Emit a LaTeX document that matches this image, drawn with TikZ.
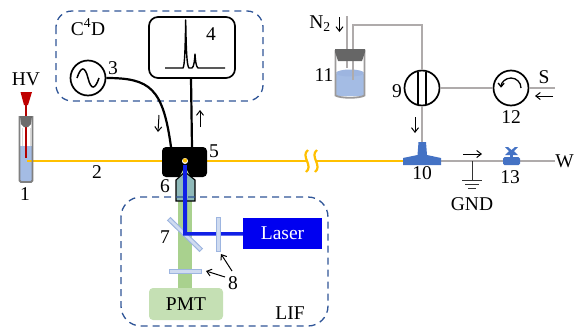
\documentclass[tikz,border=0pt]{standalone}
\usepackage{fontspec}
\setmainfont{Liberation Serif}
\usetikzlibrary{arrows.meta,calc}
\definecolor{dashblue}{HTML}{2F5597}
\definecolor{fiber}{HTML}{FFC000}
\definecolor{tube}{HTML}{AFABAB}
\definecolor{liquid}{HTML}{A4BCE4}
\definecolor{tblue}{HTML}{4472C4}
\definecolor{beam}{HTML}{1020E6}
\definecolor{lgreen}{HTML}{A9D18E}
\definecolor{pmtgreen}{HTML}{C5E0B4}
\definecolor{optic}{HTML}{CFDBF0}
\definecolor{opticb}{HTML}{9DB5E0}
\tikzset{
  lab/.style={font=\fontsize{19.5}{21}\selectfont,inner sep=0pt},
  dashbox/.style={draw=dashblue,line width=1.3pt,dash pattern=on 7pt off 5pt,rounded corners=16pt},
  thin arrow/.style={draw=black,line width=1pt,-{Straight Barb[length=4.5pt,width=7pt]}},
  pipe/.style={draw=tube,line width=1.6pt},
  cable/.style={draw=black,line width=2.2pt},
  round sym/.style={circle,draw=black,line width=1.7pt,minimum size=35pt,inner sep=0pt,fill=white},
  optbar/.style={draw=opticb,fill=optic,line width=0.8pt},
}
\begin{document}
\begin{tikzpicture}[x=1pt,y=-1pt]
\useasboundingbox (0,0) rectangle (574,327);
% dashed groups
\draw[dashbox] (56,11) rectangle (263,101);
% fibre
\draw[fiber,line width=2.2pt] (27,161) -- (403,161);
% squiggles
\fill[white] (306,148) rectangle (315,174);
\draw[fiber,line width=2.2pt] (308,150) .. controls (300,156) and (314,166) .. (306,172);
\draw[fiber,line width=2.2pt] (317,150) .. controls (309,156) and (323,166) .. (315,172);
% vial 1
\fill[liquid] (19.5,146) rectangle (32.5,181);
\draw[fiber,line width=1.2pt] (27,161) -- (33,161);
\draw[draw=gray,line width=1.9pt,rounded corners=1.5pt] (19.5,116) -- (19.5,182) -- (32.5,182) -- (32.5,116);
\draw[draw=white!70!gray,line width=0.8pt] (22,128) -- (22,146);
\draw[draw=white!70!gray,line width=0.8pt] (30,128) -- (30,146);
\draw[draw=red!70!black,line width=2pt] (25.5,100) -- (25.5,158);
\fill[gray!85!black] (20,116) -- (32,116) -- (31,124) -- (28,127) -- (24,127) -- (21,124) -- cycle;
\fill[red!75!black] (20.5,92) -- (32,92) -- (28,105) -- (24,105) -- cycle;
\node[lab] (hv) at (26,79) {HV};
\node[lab] (n1) at (25,194) {1};
\node[lab] (n2) at (97,172) {2};
% C4D
\node[round sym] (gen) at (88,78) {};
\draw[line width=1.5pt] (77,78) .. controls (81,66) and (85,66) .. (88,78) .. controls (91,90) and (95,90) .. (99,78);
\node[draw=black,line width=1.7pt,rounded corners=9pt,minimum width=86pt,minimum height=61pt,inner sep=0pt] (scope) at (192,47.5) {};
\draw[line width=1.4pt,line join=round] (165,68) -- (183,68) .. controls (184.6,66) and (185.2,50) .. (185.7,20) .. controls (186.2,50) and (186.8,66) .. (189,68) -- (192,68) .. controls (194,67) and (194.6,60) .. (195,54) .. controls (195.4,60) and (196,67) .. (198,68) -- (225,68);
\node[lab,anchor=center] (n3) at (113,68) {3};
\node[lab] (n4) at (211,34) {4};
\node[lab] (c4d) at (88,27) {C\textsuperscript{4}D};
\node[fill=black,rounded corners=4pt,minimum width=45pt,minimum height=30pt,inner sep=0pt] (det) at (184.5,162) {};
\draw[cable] (gen.east) .. controls (150,78) and (163,88) .. (171,147);
\draw[cable] (191,78) -- (192,147);
\draw[thin arrow] (159,115) -- (158,132);
\draw[thin arrow] (200,127) -- (200,110);
\node[lab] (n5) at (214,151) {5};
\fill[white] (185,161) circle (3pt);
\fill[fiber] (185,160.5) circle (2.2pt);
% LIF
\fill[lgreen] (178,200) rectangle (192,288);
\fill[lgreen!70!white] (185,166) -- (177,182) -- (193,182) -- cycle;
\filldraw[draw=black,line width=1.1pt,fill=gray!40!teal!55!white] (176,201) -- (176,180) -- (185,172) -- (195,180) -- (195,201) -- cycle;
\draw[optbar,line width=1pt] (170.4,217.6) -- (202.4,248.6) -- (199.6,251.4) -- (167.6,220.4) -- cycle;
\fill[beam] (183.2,165) -- (186.8,165) -- (187.2,232) -- (243,232) -- (243,235.5) -- (183.2,235.5) -- cycle;
\fill[beam,draw=beam] (185,165) -- (183,178) -- (187,178) -- cycle;
\draw[optbar] (216,217) rectangle (220,251);
\draw[optbar] (169,269) rectangle (201,273);
\node[fill=blue!94!black,minimum width=79pt,minimum height=31pt,inner sep=0pt] (laser) at (282.5,233.5) {};
\node[lab,text=white] at (laser) {Laser};
\node[fill=pmtgreen,rounded corners=4pt,minimum width=74pt,minimum height=32pt,inner sep=0pt] (pmt) at (186,304) {};
\node[lab] at (pmt) {PMT};
\draw[dashbox,rounded corners=20pt] (121,197) rectangle (328,326);
\node[lab] (lif) at (290,313) {LIF};
\node[lab] (n6) at (165,186) {6};
\node[lab] (n7) at (165,237) {7};
\node[lab] (n8) at (233,283) {8};
\draw[thin arrow] (232,271) -- (221,254);
\draw[thin arrow] (225,277) -- (206,271);
% vial 11
\fill[liquid] (336,74) rectangle (364,96);
\fill[liquid] (336,96) arc[start angle=180,end angle=360,x radius=14,y radius=2.5] -- cycle;
\fill[opticb] (350,73) ellipse (14 and 3.5);
\draw[tube!60!gray,line width=1.8pt] (335.5,50) -- (335.5,95.5) .. controls (340,98.5) and (360,98.5) .. (364.5,95.5) -- (364.5,50);
\draw[pipe] (347,16) -- (347,68);
\coordinate (tubein) at (353,80);
\coordinate (corner) at (422,25);
\node[round sym] (valve) at (422,88) {};
\draw[pipe] (tubein) -- (353,25) -- (corner) -- (valve.north);
\fill[gray!80!black] (335,49) -- (365,49) -- (365,52) -- (362,61) -- (338,61) -- (335,52) -- cycle;
\draw[line width=1.6pt] (418,71.5) -- (418,104.5);
\draw[line width=1.6pt] (426,71.5) -- (426,104.5);
\node[lab] (n2lab) at (320,23.5) {N\textsubscript{2}};
\draw[thin arrow] (339.5,17) -- (339.5,32);
\node[lab] (n11) at (324,75) {11};
\node[lab] (n9) at (397,91) {9};
% T and right side
\node[inner sep=0pt,minimum size=1pt] (tee) at (422,161) {};
\node[round sym] (pump) at (511,88) {};
\draw[pipe] (valve.south) -- (tee);
\draw[pipe] (valve.east) -- (pump.west);
\coordinate (send) at (555,88);
\draw[pipe] (pump.east) -- (send);
\coordinate (wend) at (555,161);
\draw[pipe] (tee) -- (wend);
\fill[tblue] (418.5,142) -- (426,142) -- (427,155) -- (441,158) -- (441,165) -- (403,165) -- (403,158) -- (417.5,155) -- cycle;
\draw[line width=1.3pt,-{Straight Barb[length=3.5pt,width=6pt]}] (521,88) arc[start angle=0,end angle=-178,radius=10];
\draw[thin arrow] (415,117) -- (415,133);
\node[lab] (n10) at (422,173) {10};
\node[lab] (n12) at (511,117) {12};
\node[lab] (ss) at (544,77) {S};
\draw[thin arrow] (553,96) -- (535,96);
% GND
\coordinate (gtap) at (472,161);
\coordinate (gfoot) at (472,180);
\draw[line width=1pt,black!80] (gtap) -- (gfoot);
\draw[line width=1pt,black!80] (462,180) -- (482,180) (465,184) -- (479,184) (468,188) -- (476,188);
\draw[thin arrow] (463,154) -- (482,154);
\node[lab] (gnd) at (472,204) {GND};
% valve 13
\fill[tblue,rounded corners=1.5pt] (503,157) rectangle (520,165);
\fill[tblue] (505,147) -- (508,147) -- (511.5,150) -- (515,147) -- (518,147) -- (514,151) -- (518,155) -- (505,155) -- (509,151) -- cycle;
\fill[tblue] (510,153) rectangle (513,158);
\node[lab] (n13) at (510,177) {13};
\node[lab,anchor=east] (w) at (574,161) {W};
\end{tikzpicture}
\end{document}
